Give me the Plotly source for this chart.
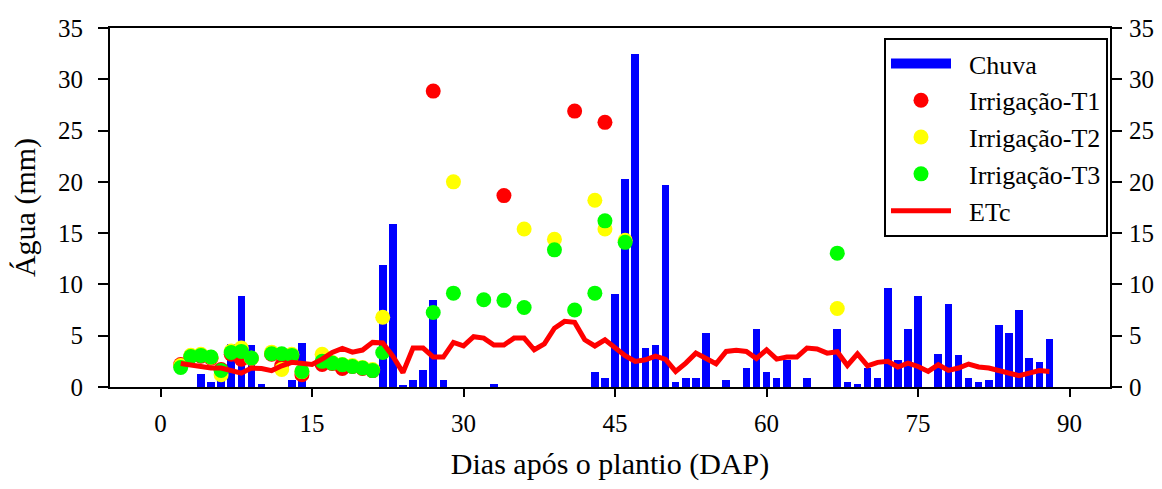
import plotly.graph_objects as go

# chuva (mm) por dia
chuva_dias = [4, 5, 6, 7, 8, 9, 10, 13, 14, 22, 23, 24, 25, 26, 27, 28, 33,
              43, 44, 45, 46, 47, 48, 49, 50, 51, 52, 53, 54, 56, 58, 59, 60,
              61, 62, 64, 67, 68, 69, 70, 71, 72, 73, 74, 75, 77, 78, 79, 80,
              81, 82, 83, 84, 85, 86, 87, 88]
chuva_mm = [1.3, 0.45, 0.7, 4.2, 8.9, 4.05, 0.3, 0.7, 4.3, 11.9, 15.9, 0.2,
            0.65, 1.65, 8.5, 0.7, 0.25, 1.5, 0.85, 9.1, 20.3, 32.5, 3.85, 4.05,
            19.7, 0.5, 0.85, 0.85, 5.25, 0.65, 1.85, 5.7, 1.45, 0.85, 2.65,
            0.85, 5.7, 0.45, 0.25, 1.9, 0.85, 9.67, 2.65, 5.7, 8.9, 3.25, 8.1,
            3.1, 0.85, 0.45, 0.65, 6.05, 5.25, 7.5, 2.85, 2.45, 4.65]

# irrigacoes
t1_dias = [2, 3, 4, 5, 6, 7, 8, 9, 11, 12, 13, 14, 16, 17, 18, 19, 20, 21,
           27, 34, 41, 44]
t1_mm = [2.2, 3.0, 3.0, 2.8, 1.7, 3.2, 2.7, 2.8, 3.2, 2.1, 3.0, 1.2, 2.2, 2.3,
         1.8, 2.0, 1.8, 1.6, 28.85, 18.66, 26.9, 25.8]

t2_dias = [2, 3, 4, 5, 6, 7, 8, 9, 11, 12, 13, 14, 16, 17, 18, 19, 20, 21,
           22, 29, 36, 39, 43, 44, 46, 67]
t2_mm = [2.1, 3.1, 3.2, 2.9, 1.2, 3.5, 3.8, 2.8, 3.4, 1.7, 3.2, 1.5, 3.2, 2.4,
         2.2, 2.1, 1.9, 1.7, 6.8, 20.0, 15.4, 14.4, 18.2, 15.4, 14.3, 7.65]

t3_dias = [2, 3, 4, 5, 6, 7, 8, 9, 11, 12, 13, 14, 16, 17, 18, 19, 20, 21,
           22, 27, 29, 32, 34, 36, 39, 41, 43, 44, 46, 67]
t3_mm = [1.9, 2.98, 3.08, 2.92, 1.62, 3.37, 3.47, 2.82, 3.24, 3.24, 3.08,
         1.52, 2.5, 2.33, 2.17, 2.0, 1.85, 1.6, 3.37, 7.27, 9.15, 8.5, 8.45,
         7.75, 13.37, 7.5, 9.15, 16.2, 14.1, 13.05]

# evapotranspiracao da cultura
etc_dias = list(range(2, 89))
etc_mm = [2.3, 2.17, 2.1, 1.85, 1.85, 1.6, 1.35, 1.85, 1.8, 1.6, 2.07, 2.4,
          2.3, 2.2, 2.72, 3.37, 3.76, 3.4, 3.6, 4.35, 4.3, 3.0, 1.4, 3.8, 3.8,
          2.92, 2.92, 4.35, 4.0, 4.9, 4.77, 4.1, 4.1, 4.77, 4.77, 3.63, 4.2,
          5.73, 6.4, 6.3, 4.6, 4.0, 4.6, 3.75, 3.05, 2.5, 2.65, 3.0, 2.7,
          1.52, 2.33, 3.3, 2.75, 2.27, 3.47, 3.57, 3.47, 2.78, 3.63, 2.72,
          2.92, 2.92, 3.8, 3.7, 3.3, 3.44, 2.1, 3.24, 2.07, 2.4, 2.5, 1.95,
          2.33, 2.0, 1.52, 2.17, 1.62, 1.85, 2.24, 1.95, 1.85, 1.62, 1.3, 1.1,
          1.35, 1.6, 1.52]

fonte = 'Liberation Serif'
gap = '\u00a0\u00a0'  # espaco entre simbolo e texto da legenda

fig = go.Figure()
fig.add_trace(go.Bar(x=chuva_dias, y=chuva_mm, name='Chuva', width=0.75,
                     showlegend=False,
                     marker=dict(color='#0000ff', line_width=0)))
# simbolo retangular da chuva na legenda
fig.add_trace(go.Scatter(x=[None], y=[None], name=gap + 'Chuva', mode='lines',
                         line=dict(color='#0000ff', width=17)))
for nome, xs, ys, cor in [('Irrigação-T1', t1_dias, t1_mm, '#ff0000'),
                          ('Irrigação-T2', t2_dias, t2_mm, '#ffff00'),
                          ('Irrigação-T3', t3_dias, t3_mm, '#00ff00')]:
    fig.add_trace(go.Scatter(x=xs, y=ys, name=gap + nome, mode='markers',
                             marker=dict(color=cor, size=15, line_width=0)))
fig.add_trace(go.Scatter(x=etc_dias, y=etc_mm, name=gap + 'ETc', mode='lines',
                         yaxis='y2', line=dict(color='#ff0000', width=5)))

eixo = dict(showline=True, linecolor='black', linewidth=2, ticks='outside',
            tickwidth=2, tickcolor='black', showgrid=False, zeroline=False,
            automargin=False,
            tickfont=dict(family=fonte, size=25, color='black'))

# o body da pagina tem margem de 8px, entao a figura fica com 1146x473
fig.update_layout(
    width=1146, height=473,
    plot_bgcolor='white', paper_bgcolor='white',
    margin=dict(l=102, r=44, t=20, b=94),
    font=dict(family=fonte, size=25, color='black'),
    xaxis=dict(eixo, range=[-5, 94], tickvals=[0, 15, 30, 45, 60, 75, 90],
               ticklen=8, mirror=True, ticklabelstandoff=5,
               title=dict(text='Dias após o plantio (DAP)', standoff=40)),
    yaxis=dict(eixo, range=[0, 35], dtick=5, ticklen=10, ticklabelstandoff=10,
               title=dict(text='Água (mm)', standoff=14)),
    yaxis2=dict(eixo, range=[0, 35], dtick=5, ticklen=10, overlaying='y',
                side='right', ticklabelstandoff=2),
    bargap=0,
    legend=dict(x=0.998, y=0.972, xanchor='right', yanchor='top',
                bgcolor='white', bordercolor='black', borderwidth=2,
                font=dict(family=fonte, size=26), itemwidth=60,
                tracegroupgap=0),
)

fig.write_html("out.html")
